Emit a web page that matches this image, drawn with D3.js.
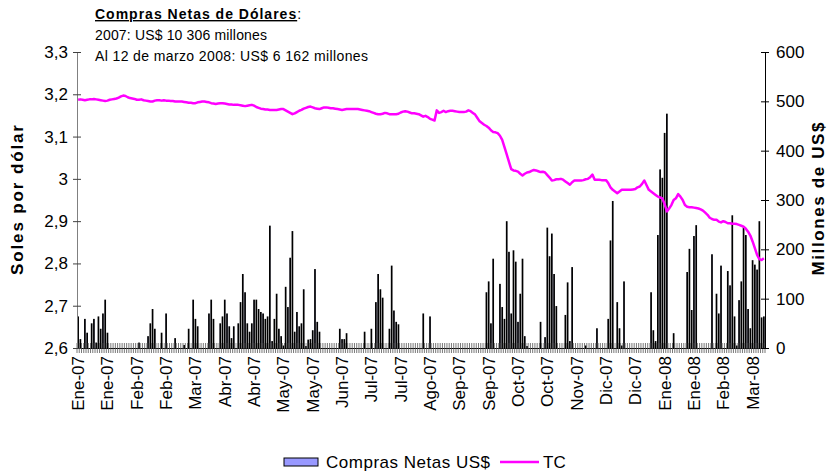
<!DOCTYPE html>
<html><head><meta charset="utf-8">
<script src="https://cdn.jsdelivr.net/npm/d3@7"></script>
<style>body{margin:0;background:#fff}svg{display:block;font-family:"Liberation Sans",Arial,sans-serif}</style>
</head><body><svg id="c" width="831" height="472"></svg>
<script>
// ---- data ----
const tickLabels = ["Ene-07","Ene-07","Feb-07","Feb-07","Mar-07","Abr-07","Abr-07","May-07","May-07","Jun-07","Jul-07","Jul-07","Ago-07","Sep-07","Sep-07","Oct-07","Oct-07","Nov-07","Dic-07","Dic-07","Ene-08","Ene-08","Feb-08","Mar-08"];
const labelEvery = 13;
const leftTicks = [2.6,2.7,2.8,2.9,3.0,3.1,3.2,3.3];
const leftTickLabels = ["2,6","2,7","2,8","2,9","3","3,1","3,2","3,3"];
const rightTicks = [0,100,200,300,400,500,600];
// Compras netas (millones US$), one per trading day
const compras = [
63,17,0,58,30,0,49,58,10,63,38,69,97,30,
0,0,0,0,0,0,0,0,0,0,0,0,0,10,0,0,0,
23,49,78,38,0,0,30,0,69,0,0,0,19,0,0,0,5,0,38,0,
97,58,43,0,0,0,0,69,97,58,0,0,49,63,97,69,43,19,43,0,
49,92,149,112,49,32,49,97,97,78,72,69,58,63,247,13,58,109,38,23,
4,123,82,182,236,32,72,43,49,118,3,16,17,35,159,52,32,0,0,0,
0,0,0,0,0,38,17,17,29,0,0,0,0,0,0,0,32,0,0,38,
0,92,149,118,101,0,0,38,166,75,52,47,0,0,0,0,0,0,0,0,
0,0,69,0,0,63,0,0,0,0,0,0,0,0,0,0,0,0,0,0,
0,0,0,0,0,0,0,0,0,0,112,134,49,180,0,0,129,82,58,256,
194,69,197,174,52,109,180,23,3,0,0,0,0,0,52,0,21,243,185,231,
149,84,0,0,0,66,132,13,163,0,0,0,0,0,4,0,0,0,0,39,
0,0,0,0,58,217,297,0,92,39,4,134,0,0,0,0,0,0,0,0,
0,0,0,112,35,13,228,361,344,435,474,0,0,29,0,0,0,0,0,153,
200,76,226,248,0,0,0,0,0,0,189,0,109,69,166,0,0,155,126,268,
63,4,96,134,244,228,78,39,177,168,158,256,61,63
];
// Tipo de cambio (soles por dólar)
const tc = [
3.187,3.188,3.187,3.186,3.187,3.188,3.188,3.189,3.188,3.187,
3.186,3.185,3.184,3.185,3.187,3.188,3.189,3.190,3.192,3.195,
3.197,3.196,3.193,3.191,3.190,3.189,3.187,3.187,3.188,3.186,
3.185,3.184,3.183,3.183,3.185,3.186,3.186,3.185,3.186,3.185,
3.185,3.184,3.184,3.183,3.183,3.183,3.183,3.182,3.181,3.180,
3.180,3.179,3.179,3.181,3.182,3.183,3.183,3.182,3.181,3.179,
3.178,3.177,3.178,3.179,3.179,3.178,3.177,3.176,3.176,3.175,
3.175,3.175,3.174,3.173,3.172,3.173,3.174,3.175,3.173,3.170,
3.168,3.166,3.165,3.164,3.164,3.163,3.163,3.163,3.163,3.164,
3.165,3.165,3.162,3.159,3.156,3.153,3.155,3.158,3.161,3.163,
3.166,3.168,3.170,3.171,3.169,3.167,3.166,3.165,3.167,3.169,
3.169,3.168,3.167,3.167,3.166,3.165,3.164,3.163,3.164,3.165,
3.165,3.165,3.165,3.165,3.165,3.164,3.163,3.162,3.161,3.160,
3.158,3.156,3.154,3.153,3.153,3.154,3.156,3.155,3.153,3.153,
3.153,3.153,3.154,3.157,3.159,3.160,3.159,3.157,3.155,3.155,
3.154,3.153,3.150,3.147,3.149,3.146,3.142,3.140,3.138,3.162,
3.156,3.158,3.161,3.158,3.160,3.161,3.161,3.160,3.159,3.158,
3.158,3.158,3.159,3.162,3.160,3.156,3.152,3.144,3.136,3.132,
3.128,3.125,3.121,3.115,3.111,3.110,3.108,3.102,3.092,3.075,
3.058,3.040,3.023,3.020,3.019,3.017,3.012,3.008,3.012,3.015,
3.016,3.019,3.021,3.020,3.018,3.016,3.017,3.015,3.009,3.003,
2.996,2.997,2.999,2.999,3.000,2.998,2.994,2.990,2.986,2.992,
2.996,2.996,2.996,2.996,2.997,2.999,3.000,3.004,3.010,2.998,
2.998,2.998,2.997,2.997,2.997,2.990,2.980,2.974,2.970,2.966,
2.970,2.974,2.974,2.974,2.974,2.974,2.975,2.976,2.980,2.982,
2.988,2.996,2.985,2.974,2.970,2.966,2.962,2.958,2.956,2.954,
2.940,2.923,2.930,2.938,2.950,2.954,2.964,2.958,2.950,2.938,
2.934,2.933,2.933,2.932,2.931,2.930,2.928,2.925,2.920,2.915,
2.908,2.905,2.903,2.903,2.899,2.897,2.900,2.898,2.895,2.895,
2.894,2.894,2.893,2.891,2.889,2.887,2.882,2.875,2.866,2.852,
2.836,2.820,2.810,2.808,2.812
];

// ---- chart ----
const P = {l:77, r:765, t:52, b:348};
const svg = d3.select('#c');
const idx = d3.range(compras.length);
const x = d3.scaleBand().domain(idx).range([P.l, P.r]).padding(0);
const bw = x.bandwidth();
const yL = d3.scaleLinear().domain([2.6, 3.3]).range([P.b, P.t]);
const yR = d3.scaleLinear().domain([0, 600]).range([P.b, P.t]);

// bars
svg.append('g').selectAll('rect').data(idx.filter(i => compras[i] > 0)).join('rect')
  .attr('x', i => x(i) + (bw - 0.7) / 2)
  .attr('width', 0.7)
  .attr('y', i => yR(compras[i]))
  .attr('height', i => yR(0) - yR(compras[i]))
  .attr('fill', '#9999FF').attr('stroke', '#000').attr('stroke-width', 1);

// category axis with crossing ticks
const xAxis = d3.axisBottom(x).tickValues(idx).tickFormat('').tickSizeOuter(0).tickSize(0);
const gx = svg.append('g').attr('transform', `translate(0,${P.b})`).call(xAxis);
gx.select('.domain').attr('stroke', '#000');
svg.append('g').selectAll('line').data(idx.concat([compras.length])).join('line')
  .attr('x1', i => i < compras.length ? x(i) : P.r)
  .attr('x2', i => i < compras.length ? x(i) : P.r)
  .attr('y1', P.b - 5).attr('y2', P.b + 5)
  .attr('stroke', '#555').attr('stroke-width', 0.8);

// x labels
svg.append('g').selectAll('text').data(tickLabels).join('text')
  .attr('transform', (d, k) => `translate(${x(k * labelEvery) + bw / 2},${P.b + 8}) rotate(-90)`)
  .attr('text-anchor', 'end').attr('dy', '0.35em')
  .attr('font-size', 17).attr('fill', '#000')
  .text(d => d);

// TC line
svg.append('path').datum(tc)
  .attr('d', d3.line().x((d, i) => x(i) + bw / 2).y(d => yL(d)))
  .attr('fill', 'none').attr('stroke', '#FF00FF').attr('stroke-width', 2.5).attr('stroke-linejoin', 'round');

// left axis
const gl = svg.append('g').attr('transform', `translate(${P.l},0)`)
  .call(d3.axisLeft(yL).tickValues(leftTicks).tickFormat((d, i) => leftTickLabels[i]).tickSizeOuter(0).tickSizeInner(4).tickPadding(5));
gl.select('.domain').attr('stroke', '#808080');
gl.selectAll('.tick line').attr('x1', 4).attr('stroke', '#404040');
gl.selectAll('.tick text').attr('font-size', 17).attr('font-family', '"Liberation Sans",Arial,sans-serif').attr('fill', '#000');

// right axis
const gr = svg.append('g').attr('transform', `translate(${P.r},0)`)
  .call(d3.axisRight(yR).tickValues(rightTicks).tickSizeOuter(0).tickSizeInner(4).tickPadding(7));
gr.select('.domain').attr('stroke', '#000');
gr.selectAll('.tick line').attr('x1', -4).attr('stroke', '#000');
gr.selectAll('.tick text').attr('font-size', 17).attr('font-family', '"Liberation Sans",Arial,sans-serif').attr('fill', '#000');

// axis titles
svg.append('text').attr('transform', 'translate(23,200) rotate(-90)').attr('text-anchor', 'middle')
  .attr('font-size', 17).attr('font-weight', 'bold').attr('textLength', 150).attr('lengthAdjust', 'spacing').text('Soles por dólar');
svg.append('text').attr('transform', 'translate(824,199) rotate(-90)').attr('text-anchor', 'middle')
  .attr('font-size', 17).attr('font-weight', 'bold').attr('textLength', 153).attr('lengthAdjust', 'spacing').text('Millones de US$');

// title block
const t1 = svg.append('text').attr('x', 95).attr('y', 19).attr('font-size', 14);
t1.append('tspan').attr('font-weight', 'bold').attr('text-decoration', 'underline').attr('letter-spacing', 1).text('Compras Netas de Dólares');
t1.append('tspan').text(':');
svg.append('text').attr('x', 95).attr('y', 40).attr('font-size', 14).attr('textLength', 172).attr('lengthAdjust', 'spacing').text('2007: US$ 10 306 millones');
svg.append('text').attr('x', 95).attr('y', 61).attr('font-size', 14).attr('textLength', 273).attr('lengthAdjust', 'spacing').text('Al 12 de marzo 2008: US$ 6 162 millones');

// legend
const lg = svg.append('g');
lg.append('rect').attr('x', 284).attr('y', 458).attr('width', 34).attr('height', 8).attr('fill', '#9999FF').attr('stroke', '#000').attr('stroke-width', 1);
lg.append('text').attr('x', 326).attr('y', 468).attr('font-size', 17).attr('textLength', 164).attr('lengthAdjust', 'spacing').text('Compras Netas US$');
lg.append('line').attr('x1', 500).attr('x2', 539).attr('y1', 462).attr('y2', 462).attr('stroke', '#FF00FF').attr('stroke-width', 2.5);
lg.append('text').attr('x', 543).attr('y', 468).attr('font-size', 17).text('TC');
</script></body></html>
